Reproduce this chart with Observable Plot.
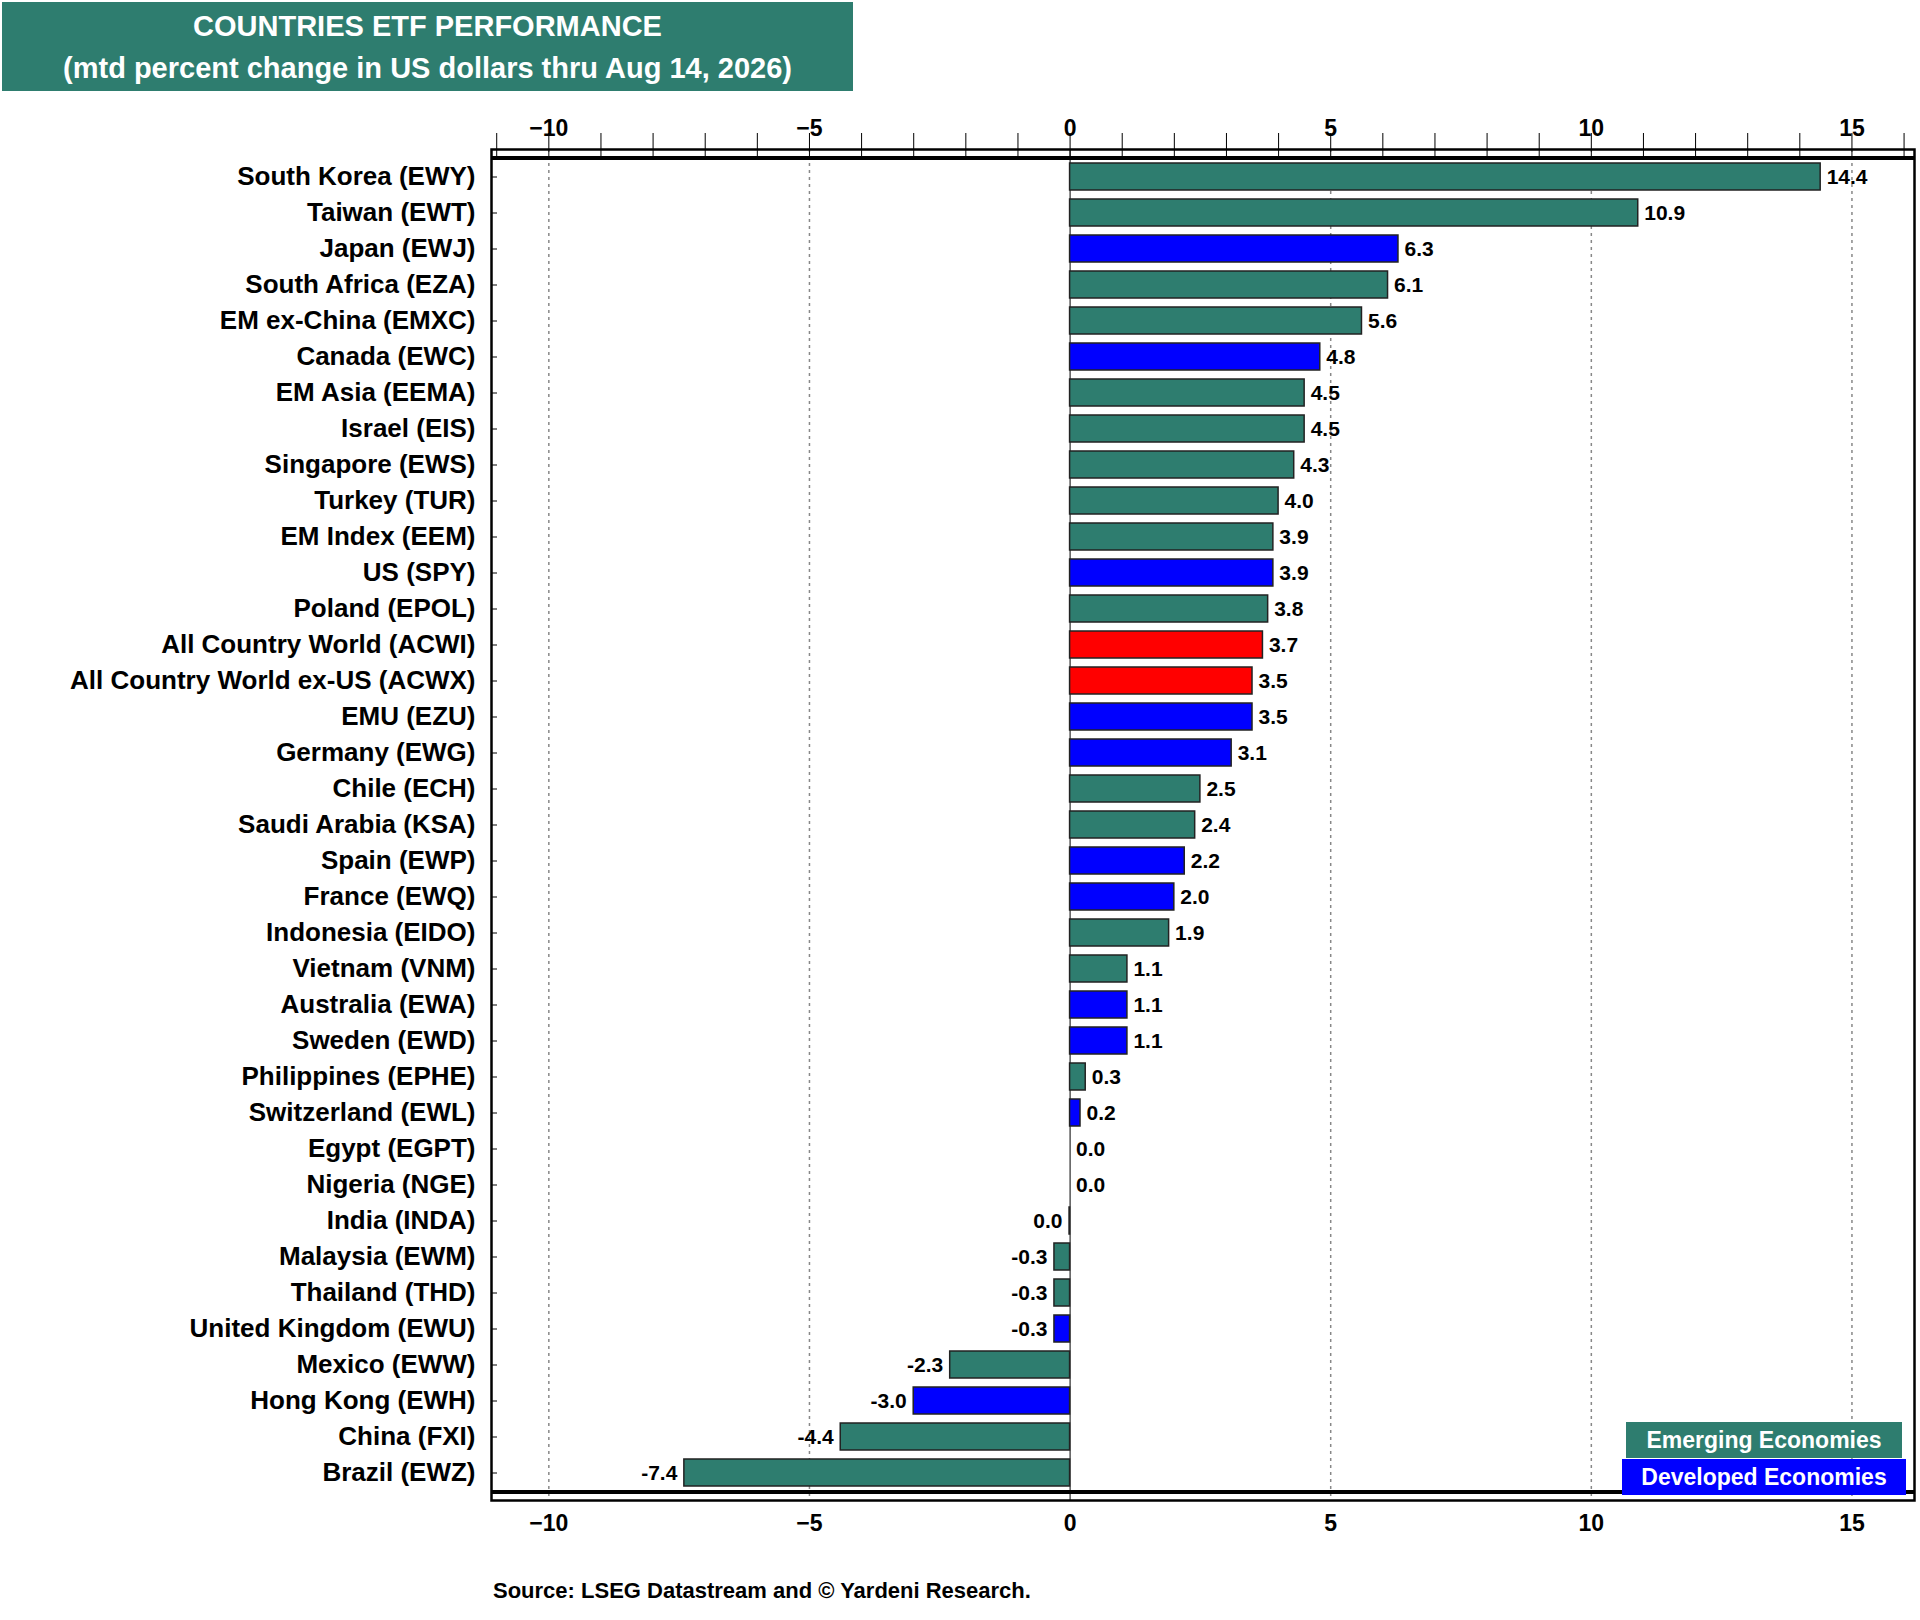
<!DOCTYPE html>
<html><head><meta charset="utf-8">
<script src="https://cdn.jsdelivr.net/npm/d3@7"></script>
<script src="https://cdn.jsdelivr.net/npm/@observablehq/plot@0.6"></script>
<style>
body{margin:0;background:#fff;font-family:"Liberation Sans",Arial,sans-serif;font-weight:bold;}
#wrap{position:relative;width:1920px;height:1620px;}
.title{position:absolute;left:2px;top:2px;width:851px;height:89px;background:#2e7d6f;color:#fff;text-align:center;font-size:29px;line-height:42px;padding-top:3px;box-sizing:border-box;}
.leg{position:absolute;color:#fff;font-size:23px;text-align:center;}
.src{position:absolute;left:493px;top:1578px;font-size:22px;color:#000;}
</style></head><body>
<div id="wrap">
<div id="chart"></div>
<div class="title">COUNTRIES ETF PERFORMANCE<br>(mtd percent change in US dollars thru Aug 14, 2026)</div>
<div class="leg" style="left:1626px;top:1422px;width:276px;height:36px;line-height:36px;background:#2e7d6f;">Emerging Economies</div>
<div class="leg" style="left:1622px;top:1459px;width:284px;height:36px;line-height:36px;background:#0000ff;">Developed Economies</div>
<div class="src">Source: LSEG Datastream and © Yardeni Research.</div>
</div>
<script>
const names = ["South Korea (EWY)","Taiwan (EWT)","Japan (EWJ)","South Africa (EZA)","EM ex-China (EMXC)","Canada (EWC)","EM Asia (EEMA)","Israel (EIS)","Singapore (EWS)","Turkey (TUR)","EM Index (EEM)","US (SPY)","Poland (EPOL)","All Country World (ACWI)","All Country World ex-US (ACWX)","EMU (EZU)","Germany (EWG)","Chile (ECH)","Saudi Arabia (KSA)","Spain (EWP)","France (EWQ)","Indonesia (EIDO)","Vietnam (VNM)","Australia (EWA)","Sweden (EWD)","Philippines (EPHE)","Switzerland (EWL)","Egypt (EGPT)","Nigeria (NGE)","India (INDA)","Malaysia (EWM)","Thailand (THD)","United Kingdom (EWU)","Mexico (EWW)","Hong Kong (EWH)","China (FXI)","Brazil (EWZ)"];
const values = [14.4,10.9,6.3,6.1,5.6,4.8,4.5,4.5,4.3,4.0,3.9,3.9,3.8,3.7,3.5,3.5,3.1,2.5,2.4,2.2,2.0,1.9,1.1,1.1,1.1,0.3,0.2,0.0,0.0,-0.01,-0.3,-0.3,-0.3,-2.3,-3.0,-4.4,-7.4];
const groups = ["E","E","D","E","E","D","E","E","E","E","E","D","E","W","W","D","D","E","E","D","D","E","E","D","D","E","D","E","E","E","E","E","D","E","D","E","E"];
const xTicks = [-10,-5,0,5,10,15];
const colors = {E:"#2e7d6f", D:"#0000ff", W:"#ff0000"};
const data = names.map((n,i)=>({name:n, v:values[i], g:groups[i], lbl:Math.abs(values[i]).toFixed(1)==="0.0"?"0.0":values[i].toFixed(1)}));
const pos = data.filter(d=>d.v>=0), neg = data.filter(d=>d.v<0);
const fs = "Liberation Sans, Arial, sans-serif";
const chart = Plot.plot({
  width:1920, height:1620,
  marginLeft:491, marginRight:6, marginTop:149, marginBottom:120,
  style:{fontFamily:fs, fontWeight:"bold", background:"transparent"},
  x:{domain:[-11.1,16.2], ticks:xTicks, label:null},
  y:{domain:names, padding:0.26, label:null},
  marks:[
    Plot.ruleX([-10,-5,5,10,15], {stroke:"#888", strokeDasharray:"3,4", strokeWidth:1.5}),
    Plot.ruleX([0], {stroke:"#000", strokeWidth:1}),
    Plot.barX(data, {x:"v", y:"name", fill:d=>colors[d.g], stroke:"#222", strokeWidth:1.5}),
    Plot.text(pos, {x:"v", y:"name", text:"lbl", textAnchor:"start", dx:6, fontSize:21, fill:"#000"}),
    Plot.text(neg, {x:"v", y:"name", text:"lbl", textAnchor:"end", dx:-7, fontSize:21, fill:"#000"}),
    Plot.axisY({tickSize:-6, tickPadding:22, fontSize:26, fill:"#000"}),
    Plot.axisX({anchor:"top", ticks:xTicks, tickSize:0, tickPadding:14, fontSize:23, fill:"#000"}),
    Plot.axisX({anchor:"bottom", ticks:xTicks, tickSize:0, tickPadding:14, fontSize:23, fill:"#000"}),
    Plot.tickX(d3.range(-11,17), {y:()=>names[0], dy:-30, stroke:"#000", strokeWidth:1}),
    Plot.frame({stroke:"#000", strokeWidth:2.5}),
    Plot.ruleY([names[0]], {dy:-19, stroke:"#000", strokeWidth:4}),
    Plot.ruleY([names[names.length-1]], {dy:19, stroke:"#000", strokeWidth:4})
  ]
});
document.getElementById("chart").appendChild(chart);
</script>
</body></html>
